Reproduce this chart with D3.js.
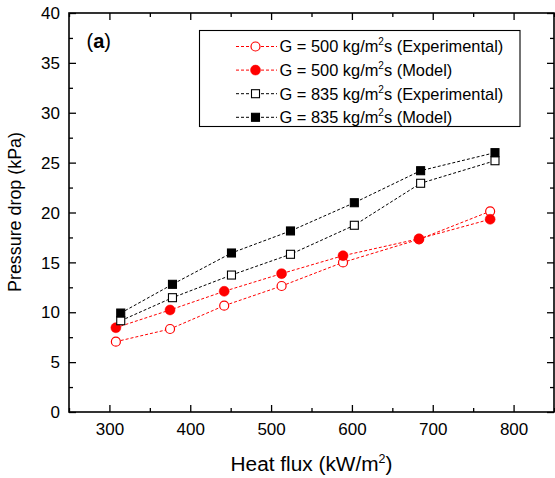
<!DOCTYPE html>
<html><head><meta charset="utf-8">
<script src="https://cdn.jsdelivr.net/npm/d3@7"></script>
<style>body{margin:0;background:#fff}svg{display:block;font-family:"Liberation Sans",Arial,sans-serif}</style>
</head><body><svg id="c" width="555" height="478"></svg>
<script>
const circleX = [308, 375, 442, 513, 589, 683, 771];
const squareX = [314, 378, 451, 524, 603, 685, 777];
const exp500 = [7.05, 8.32, 10.66, 12.63, 15.0, 17.31, 20.12];
const model500 = [8.45, 10.23, 12.1, 13.87, 15.67, 17.37, 19.32];
const exp835 = [9.15, 11.46, 13.73, 15.81, 18.72, 22.93, 25.19];
const model835 = [9.92, 12.8, 15.94, 18.15, 20.98, 24.19, 26.0];
const xTicks = [300, 400, 500, 600, 700, 800];
const yTicks = [0, 5, 10, 15, 20, 25, 30, 35, 40];
const seriesNames = ["500", "500", "835", "835"];
const seriesKinds = ["Experimental", "Model", "Experimental", "Model"];

const series = [
  {x: circleX, y: exp500, color: "#ff0000", shape: "circle", filled: false},
  {x: circleX, y: model500, color: "#ff0000", shape: "circle", filled: true},
  {x: squareX, y: exp835, color: "#000000", shape: "square", filled: false},
  {x: squareX, y: model835, color: "#000000", shape: "square", filled: true}
];

const svg = d3.select("#c");
const L = 69, R = 554, T = 13, B = 412;
const x = d3.scaleLinear().domain([250, 850]).range([L, R]);
const y = d3.scaleLinear().domain([0, 40]).range([B, T]);

// fit a text element's font size to a target width
function fit(sel, target) {
  const n = sel.node();
  const fs = parseFloat(sel.attr("font-size"));
  const w = n.getComputedTextLength();
  if (w > 0) {
    const k = target / w;
    sel.attr("font-size", fs * k);
    sel.selectAll("tspan").each(function() {
      const t = d3.select(this);
      if (t.attr("font-size")) t.attr("font-size", parseFloat(t.attr("font-size")) * k);
      if (t.attr("dy")) t.attr("dy", parseFloat(t.attr("dy")) * k);
    });
  }
}

// axes with inward ticks
const minorX = d3.range(250, 851, 50).filter(v => v % 100 !== 0);
const minorY = d3.range(2.5, 40, 5);
function drawAxis(gen, transform, major, minor, labels) {
  const gM = svg.append("g").attr("transform", transform)
    .call(gen.tickValues(major).tickSize(-7).tickSizeOuter(0).tickFormat(labels ? d3.format("d") : ""));
  gM.select(".domain").remove();
  gM.selectAll(".tick line").attr("stroke", "#000").attr("stroke-width", 1.3);
  gM.selectAll("text").attr("font-size", 17).attr("fill", "#000").attr("font-family", null);
  const gm = svg.append("g").attr("transform", transform)
    .call(gen.tickValues(minor).tickSize(-4).tickSizeOuter(0).tickFormat(""));
  gm.select(".domain").remove();
  gm.selectAll(".tick line").attr("stroke", "#000").attr("stroke-width", 1.3);
  return gM;
}
svg.selectAll("g").attr("font-family", null);
const bx = drawAxis(d3.axisBottom(x), `translate(0,${B})`, xTicks, minorX, true);
bx.attr("font-family", null);
bx.selectAll("text").attr("y", 23).attr("dy", 0);
const tx = drawAxis(d3.axisTop(x), `translate(0,${T})`, xTicks, minorX, false);
const ly = drawAxis(d3.axisLeft(y), `translate(${L},0)`, yTicks, minorY, true);
ly.attr("font-family", null);
ly.selectAll("text").attr("x", -9).attr("dy", "0.33em");
drawAxis(d3.axisRight(y), `translate(${R},0)`, yTicks, minorY, false);
svg.selectAll("g").attr("font-family", null);

svg.append("rect").attr("x", L).attr("y", T).attr("width", R - L).attr("height", B - T)
  .attr("fill", "none").attr("stroke", "#000").attr("stroke-width", 1.6);

// series
function drawMarker(g, s, cx, cy) {
  if (s.shape === "circle") {
    g.append("circle").attr("cx", cx).attr("cy", cy).attr("r", s.filled ? 5 : 4.5)
      .attr("fill", s.filled ? s.color : "#fff").attr("stroke", s.color).attr("stroke-width", s.filled ? 0.5 : 1.2);
  } else {
    const h = 4;
    g.append("rect").attr("x", cx - h).attr("y", cy - h).attr("width", 2 * h).attr("height", 2 * h)
      .attr("fill", s.filled ? s.color : "#fff").attr("stroke", s.color).attr("stroke-width", 1.1);
  }
}
const line = d3.line();
series.forEach(s => {
  const pts = s.x.map((v, i) => [x(v), y(s.y[i])]);
  svg.append("path").attr("d", line(pts)).attr("fill", "none")
    .attr("stroke", s.color).attr("stroke-width", 1).attr("stroke-dasharray", "3,2");
});
series.forEach(s => {
  const g = svg.append("g");
  s.x.forEach((v, i) => drawMarker(g, s, x(v), y(s.y[i])));
});

// legend
svg.append("rect").attr("x", 199.5).attr("y", 30.5).attr("width", 320.5).attr("height", 96)
  .attr("fill", "#fff").attr("stroke", "#000").attr("stroke-width", 1.1);
series.forEach((s, i) => {
  const cy = 46.5 + i * 23.6;
  svg.append("line").attr("x1", 236).attr("x2", 277).attr("y1", cy).attr("y2", cy)
    .attr("stroke", s.color).attr("stroke-width", 1).attr("stroke-dasharray", "3,2");
  drawMarker(svg, s, 255.5, cy);
  const t = svg.append("text").attr("x", 279.5).attr("y", cy + 5.8).attr("font-size", 16.4).attr("fill", "#000");
  t.append("tspan").text(`G = ${seriesNames[i]} kg/m`);
  t.append("tspan").attr("font-size", 10).attr("dy", -7).text("2");
  t.append("tspan").attr("dy", 7).text(`s (${seriesKinds[i]})`);
});

// panel label
const pl = svg.append("text").attr("x", 86.5).attr("y", 48).attr("font-size", 20).attr("fill", "#000");
pl.append("tspan").text("(");
pl.append("tspan").attr("font-weight", "bold").text("a");
pl.append("tspan").text(")");

// axis titles
const xt = svg.append("text").attr("x", (L + R) / 2).attr("y", 471).attr("text-anchor", "middle")
  .attr("font-size", 20).attr("fill", "#000");
xt.append("tspan").text("Heat flux (kW/m");
xt.append("tspan").attr("font-size", 12).attr("dy", -8).text("2");
xt.append("tspan").attr("dy", 8).text(")");
fit(xt, 162);

const yt = svg.append("text").attr("transform", `translate(21,${(132 + 292) / 2}) rotate(-90)`)
  .attr("text-anchor", "middle").attr("font-size", 18).attr("fill", "#000")
  .text("Pressure drop (kPa)");
fit(yt, 160);
</script></body></html>
